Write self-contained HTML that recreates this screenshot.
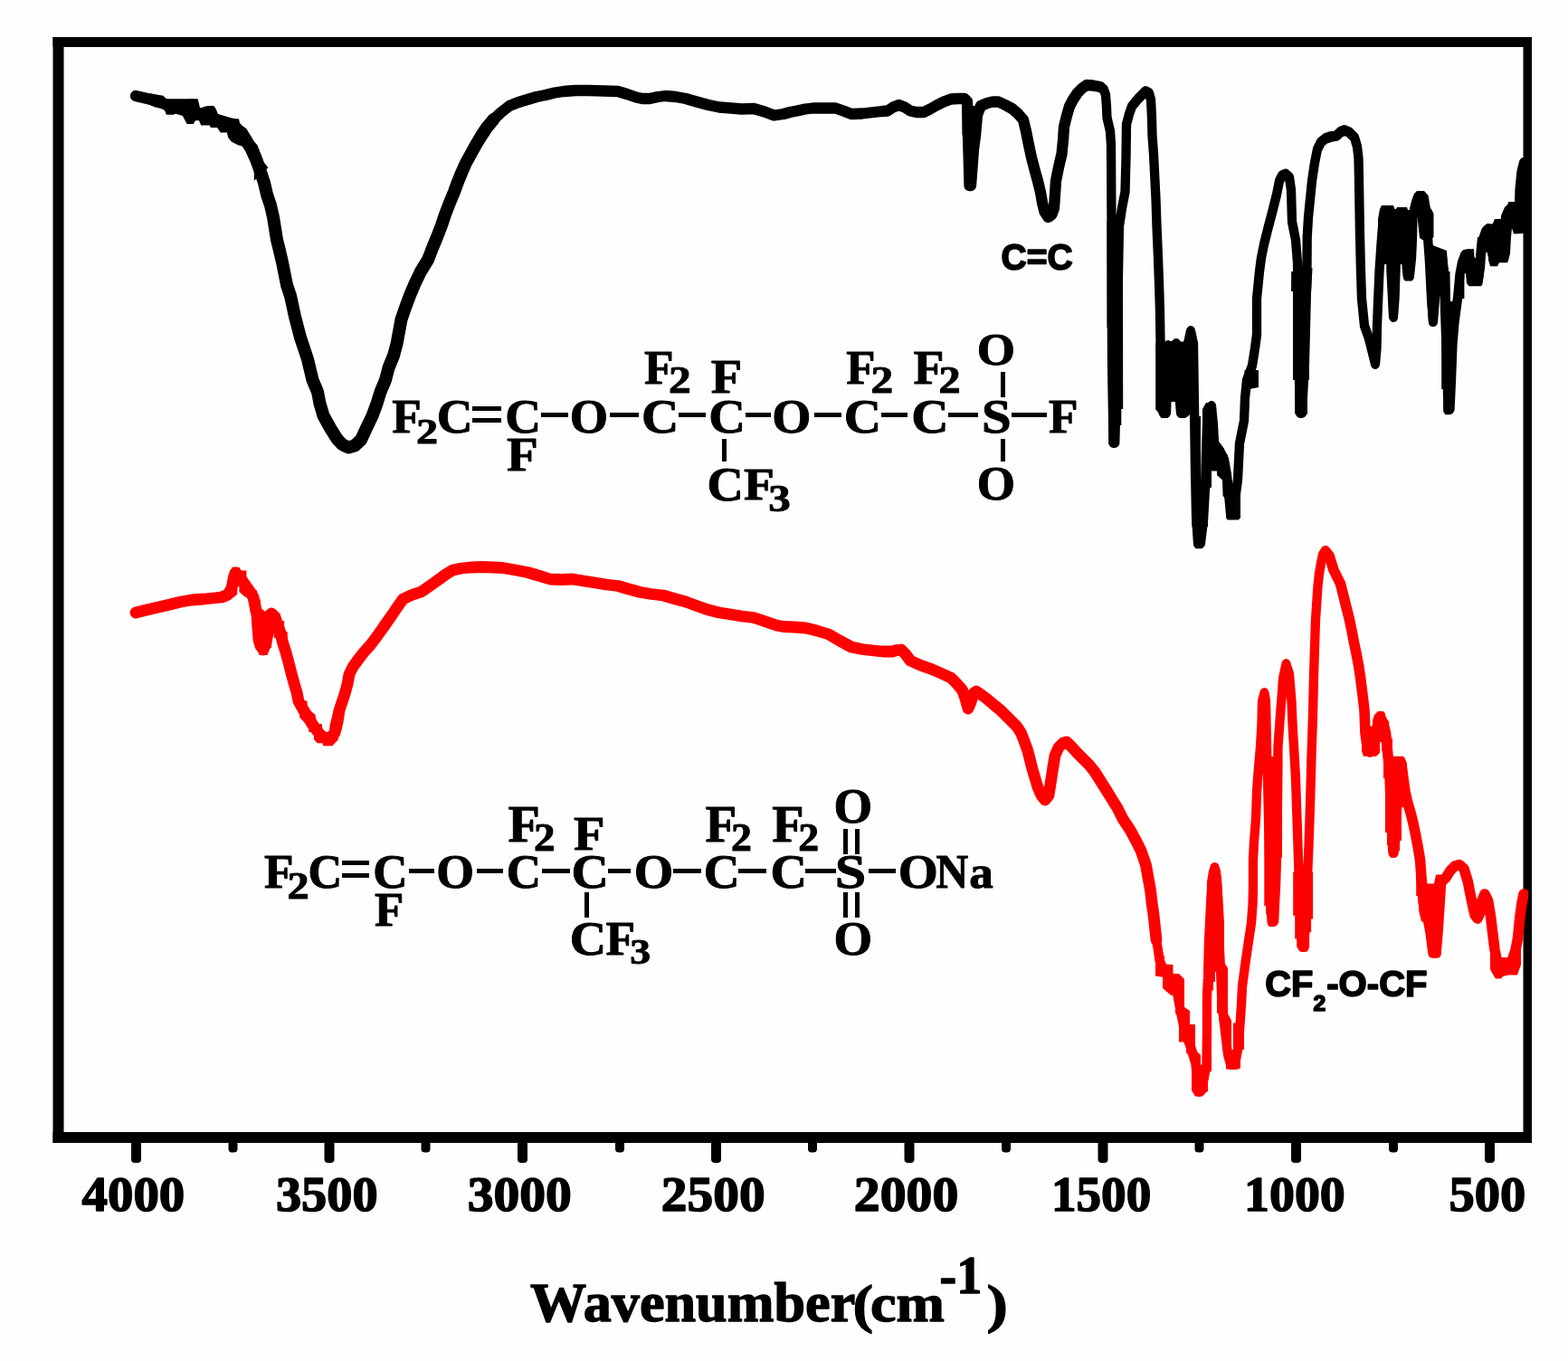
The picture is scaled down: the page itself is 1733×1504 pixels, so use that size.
<!DOCTYPE html>
<html lang="en">
<head>
<meta charset="utf-8">
<title>FTIR spectra</title>
<style>
html,body{margin:0;padding:0;background:#fefefe;}
body{width:1733px;height:1504px;overflow:hidden;}
svg{display:block;}
.ser{font-family:"Liberation Serif","DejaVu Serif",serif;font-weight:bold;fill:#000;}
.san{font-family:"Liberation Sans","DejaVu Sans",sans-serif;font-weight:bold;fill:#000;}
.crv{fill:none;stroke-linejoin:round;stroke-linecap:round;}
</style>
</head>
<body>
<svg width="1733" height="1504" viewBox="0 0 1733 1504">
<defs><clipPath id="plot"><rect x="64" y="46" width="1626" height="1212"/></clipPath><clipPath id="plotr"><rect x="64" y="46" width="1625" height="1212"/></clipPath></defs>
<rect x="0" y="0" width="1733" height="1504" fill="#fefefe"/>
<g clip-path="url(#plot)">
<polyline class="crv" stroke="#000" stroke-width="12.3" points="150,106.00 165,109.50 178,113.00 190,119.00 200,119.50 207,117.00 212,115.50 213,127.00 222,127.00 228,123.50 233,123.00 236,131.00 246,134.00 258,137.50 266,146.00"/>
<polyline class="crv" stroke="#000" stroke-width="14.0" points="266,146.00 272,155.00 278,165.00 283,176.00 288,190.00 292,202.00 295,215.00 299,227.00 302,240.00 306,265.00 309,277.00 312,290.00 317,315.00 321,327.00 326,350.00 332,373.00 340,397.00 345.5,420.00 351,433.00 353.5,446.00 357.5,459.50 365,473.00 372.5,485.00 378,491.00 385,494.50 392,492.50 399,486.00 405,473.00 411.5,459.50 416.5,446.00 420.5,433.00 426,420.00 429.5,406.50 435,393.00 438.5,380.00 441,366.50 443.5,353.00 448,340.00 453,326.50 458.5,313.50 465,300.00 473,287.00 478,274.00 483,262.00 488,249.00 492,237.00 497,224.00 502,212.00 506,201.00 510.5,190.00 515,180.00 520.5,170.00 526,160.00 532,150.00 538,141.00 545.5,132.00"/>
<polyline class="crv" stroke="#000" stroke-width="12.3" points="545.5,132.00 554,124.00 563,117.00 573,113.00 583,110.00 593,107.00 603,105.00 613,102.50 623,101.00 636,100.00 650.5,100.00 668,100.50 683,101.00 693,104.00 703,107.50 710,109.00 718,109.00 727,107.00 735.5,106.00 747,107.00 758,109.00 770,112.50 783,116.00 795,118.50 808,119.50 820,120.50 833,120.00 845,123.50 855.5,127.50 866,126.00 873,124.00 881,122.50 890,120.50 898.5,119.50 911,119.50 923.5,119.50 932,122.50 941,126.00 953,125.50 966,124.00 975,123.00 981,122.50 987,118.50 993.5,116.00 1000,118.50 1006,122.50 1013,124.00 1021,124.00 1028,120.50 1036,116.00 1043,112.50 1051,109.50 1059,109.00 1066,109.00 1069,112.00 1070,150.00 1071.5,205.00 1073,205.00 1076,165.00 1078,150.00 1080,127.00 1084,117.00 1091,114.00 1097,112.50 1103.5,112.50 1111,116.00 1118.5,120.00 1125,125.50 1131,132.50 1134,145.00 1137,160.00 1140,174.00 1143.5,187.50 1147,200.00 1150,212.50 1152,224.00 1154.5,234.00 1158.5,240.00 1162.5,237.00 1165,230.00 1166,215.00 1167,200.00 1170,185.00 1173.5,170.00 1175,155.00 1176,140.00 1179,128.00 1182,117.50 1186,110.00 1191,102.50 1196,97.50 1201,94.00 1208,94.50 1216,96.00"/>
<g transform="scale(1 1.15)"><polyline class="crv" stroke="#000" stroke-width="10.3" points="1523,291.30 1524.5,260.87 1526.5,234.78 1528.5,213.04 1531,205.22 1534,202.61 1536.5,208.70 1537,234.78 1537.5,260.87 1539,286.96 1540,304.35 1541.5,286.96 1542.5,260.87 1543.5,230.43 1545,208.70 1548,204.78 1551,205.22 1552,217.39 1553,239.13 1555.5,264.35 1558,264.35 1560,247.83 1561,227.83 1561.5,208.70 1564,198.26 1567,191.30 1570.5,188.70 1574,191.30 1576,201.74 1576.5,217.39 1578,227.83 1580,252.17 1582,286.96 1584,308.70 1586,286.96 1588,260.87 1589.5,246.09 1594,246.96 1596,260.87 1597,295.65 1599,347.83 1600.5,393.04 1602.5,393.04 1604,365.22 1605.5,330.43 1607.5,309.57 1611,286.96 1613.5,263.48 1616,252.17 1619,245.22 1623,244.35 1626,252.17 1627,265.22 1630,269.57 1634,267.83 1636,256.52 1637,243.48 1639,230.43 1642,222.61 1645,220.00 1647,234.78 1651,250.43 1654,234.78 1656,216.52 1659,233.04 1661.5,246.96 1664,230.43 1664,208.70 1667,202.61 1671,199.13 1674,213.04 1677,219.13 1679,204.35 1679.5,182.61 1681.5,165.22 1684,156.52"/></g>
<g transform="scale(1 1.15)"><polyline class="crv" stroke="#000" stroke-width="10.3" points="1216,83.48 1220,86.09 1222,91.30 1223,102.61 1223.5,113.04 1227,126.09 1228,139.13 1228.5,217.39 1229,347.83 1230.5,425.22 1232,425.22 1234,382.61 1235,304.35 1236,260.87 1237,217.39 1240,200.00 1243.5,184.35 1244.5,152.17 1245,119.57 1248,109.57 1251,102.17 1258,94.78 1266,87.83 1270,89.57 1272,95.65 1273,113.04 1273.5,130.43 1275,147.83 1276,165.22 1277.5,191.30 1278.5,217.39 1280,247.83 1281,271.30 1282,300.00 1282.5,327.83 1284,365.22 1286,396.52 1289,396.52 1290,365.22 1291,332.17 1296,333.91 1300,330.43 1302,365.22 1305,396.52 1309,396.52 1311,365.22 1313,330.43 1316,318.26 1319,330.43 1320,391.30 1321,452.17 1322,495.65 1324,521.74 1327,521.74 1330,500.00 1332,469.57 1333,434.78 1334,408.70 1336,393.04 1339,390.43 1341,408.70 1342,426.09 1348,433.04 1353,441.74 1356,456.52 1358,473.91 1360,493.91 1364,493.91 1366,473.91 1368,460.87 1369,443.48 1370,426.09 1373,413.04 1375,404.35 1376,382.61 1378,365.22 1384,351.30 1387,334.78 1389,321.74 1389,304.35 1389,286.96 1392,260.87 1394,247.83 1397,234.78 1402,217.39 1406,204.35 1411,186.96 1414,173.91 1417,168.70 1421,167.39 1425,170.43 1427,182.61 1428,213.04 1432,230.43 1434,252.17 1435,304.35 1436,365.22 1437,396.52 1439,396.52 1442,347.83 1443.5,295.65 1444.5,257.39 1444.7,227.83 1446,208.70 1447.5,195.65 1450,173.91 1453,156.52 1456,143.48 1460,136.52 1465,133.04 1471,131.30 1477,130.43 1482,126.52 1486,125.22 1491,126.96 1497,132.17 1500,140.87 1501.5,152.17 1502,173.91 1503,226.09 1504,260.87 1505,286.96 1508,313.04 1513,325.22 1517,339.13 1520,349.57 1521.5,334.78 1522,313.04 1523,291.30"/></g>
<polygon fill="#000" points="1223.5,245 1241,245 1241.2,452 1239.3,452 1239.3,470 1237.3,470 1237.3,491 1235,494 1228,494 1225.3,491 1225.3,362 1223.5,362"/>
<polygon fill="#000" points="1277.2,379 1295,378.5 1297,392 1299,392 1299.5,377.5 1308.5,377.5 1311,375 1311.5,366 1314,363.5 1319,363.5 1321,366 1321,441 1323,449 1325,458 1317.4,460 1315,458 1313,460 1305,460 1303,457 1301.8,444 1293.1,444 1293,458 1290.5,462 1283.5,462 1281,458 1279,454 1277.2,453"/>
<polygon fill="#000" points="1317.4,460 1327,460 1327,530 1329,530 1329,452 1333,445 1340,445 1343,450 1343,488.6 1339,488.6 1339,538.5 1335,540 1335,582.3 1331,582.3 1331,603 1328.5,606.3 1321.5,606.3 1319.3,603 1319.3,582.3 1317.4,582.3"/>
<polygon fill="#000" points="1338,490 1343,487.5 1347,497 1356.5,502 1357,522 1361,525 1361,534 1363.6,536 1371,540 1371,572 1369,574.4 1356.5,574.4 1355,572 1355,552 1351.6,548 1351,530.5 1345,525 1345,520.5 1339,520.5"/>
<polygon fill="#000" points="1375.5,409 1391,409 1391,428 1381,430 1375.5,428"/>
<polygon fill="#000" points="1427.2,300 1432,300 1438,293 1444,300 1450.5,296 1449.2,322 1447,322 1447,420 1445,420 1445,457 1442,460.4 1434,460.4 1431.2,457 1431.2,420 1429,420 1429,322 1427,322"/>
<polygon fill="#000" points="1523,242 1525,231 1527,227 1540,227 1541.5,231 1543,231 1544,229 1555,229 1556,232 1558,232 1560,222 1563,214 1566,211 1574,211 1578.5,216 1578.5,228 1582,231 1584.5,236 1584.5,262 1577,268 1569,263 1566,234 1565,279 1563,292 1562.5,308 1560.5,310.5 1553,310.5 1551,308 1551,292 1523,292"/>
<polygon fill="#000" points="1577,268 1586,272 1599,277 1600,295 1602,310 1602,330 1593,328 1590,319 1588.5,345 1588.5,357 1586.5,360.5 1580.5,360.5 1579,357 1577,328"/>
<polygon fill="#000" points="1593.2,300 1602.5,300 1603,333 1607,333 1610.5,326 1610.5,369 1608.4,369 1608.4,409 1606.4,409 1606.4,430 1605,430 1605,455 1602.5,458.3 1597.5,458.3 1595.3,455 1595.3,430 1593.2,430"/>
<polygon fill="#000" points="1609,330 1609,302 1613,292 1615.7,280 1617,276 1629,275 1629.5,285 1631,285 1631.5,277 1633,262 1641,262 1640,302 1638.5,314 1637,316.3 1623.5,316.3 1621,313 1620,302 1618.4,302 1618.4,330"/>
<polygon fill="#000" points="1639.6,250 1650,247 1652,242 1661,242 1662,232.5 1666,232.5 1667,223 1675.5,223 1676,200 1680,182 1684,176 1684,258 1673,258.4 1671,252 1670,262 1669,280 1667,288 1666,290.3 1657,290.3 1655,294.3 1647,294.3 1645,287 1645,279 1641,279"/>
<polygon fill="#000" points="165.9,103.3 180.3,105.7 183.9,109.3 201.8,109.3 210.2,109.3 218.6,109.3 221,118.9 228.1,118.9 229.3,117.3 236.5,117.3 242.5,129.1 264.1,131.5 265.8,141 272.4,142.2 278.4,154.2 284.4,160.2 288,169.8 291.6,179.3 296.4,185.3 280.8,199.7 280.8,185.3 274.8,169.8 267.6,161.4 262.9,160.2 255.7,156.6 252.1,151.8 250.9,146.4 243.7,146.4 240.1,141 232.9,141 231.7,138.6 222.2,138.6 219.8,132.7 216.2,132.7 213.8,136.9 206.6,136.9 201.8,127.9 193.4,125.5 192.2,126.7 183.9,126.7 181.5,120.7 170.7,118.3 165.9,115.9"/>
<polygon fill="#000" points="1063.5,115 1083.5,118 1083.5,125 1082,162 1079,165 1077,177 1077,208 1075.5,210 1068.5,210 1067,208 1067,165 1065.5,162 1063.5,148"/>
</g>
<g fill="#000">
<rect x="58.5" y="41" width="1634.5" height="11"/>
<rect x="58.5" y="1251" width="1634.5" height="12"/>
<rect x="58.5" y="41" width="12" height="1222"/>
<rect x="1683.5" y="41" width="9.5" height="1222"/>
<rect x="145" y="1260" width="11" height="25" rx="4" ry="4"/>
<rect x="358.5" y="1260" width="11" height="25" rx="4" ry="4"/>
<rect x="572" y="1260" width="11" height="25" rx="4" ry="4"/>
<rect x="786" y="1260" width="11" height="25" rx="4" ry="4"/>
<rect x="999.5" y="1260" width="11" height="25" rx="4" ry="4"/>
<rect x="1213.5" y="1260" width="11" height="25" rx="4" ry="4"/>
<rect x="1427" y="1260" width="11" height="25" rx="4" ry="4"/>
<rect x="1641" y="1260" width="11" height="25" rx="4" ry="4"/>
<rect x="252.5" y="1260" width="10" height="13.5" rx="4" ry="4"/>
<rect x="465.5" y="1260" width="10" height="13.5" rx="4" ry="4"/>
<rect x="680" y="1260" width="10" height="13.5" rx="4" ry="4"/>
<rect x="893" y="1260" width="10" height="13.5" rx="4" ry="4"/>
<rect x="1107" y="1260" width="10" height="13.5" rx="4" ry="4"/>
<rect x="1320.5" y="1260" width="10" height="13.5" rx="4" ry="4"/>
<rect x="1535" y="1260" width="10" height="13.5" rx="4" ry="4"/>
</g>
<g clip-path="url(#plotr)">
<polyline class="crv" stroke="#ff0000" stroke-width="12.8" points="150,677.00 162,674.00 175,671.00 188,668.00 200,665.00 212,663.00 225,662.00 235,661.00 245,660.00 252,657.00 256,650.00 258,640.00 260,633.00 264,636.00 270,645.00 275,652.00 280,660.00 282,670.00 284,680.00 285,695.00 286,707.00 288,714.00 291,718.00 294,710.00 296,700.00 298,686.00 300,678.00 304,682.00 307.5,692.00 310,700.00 312.5,710.00 316,721.00 319,732.00 322,744.00 325,755.00 328,765.00 330,775.00 335,784.00 340,792.00 345,800.00 350,807.00 355,813.00 360,816.00 365,815.00 370,810.00 373,798.00 375,785.00 378,776.00 381,767.00 384,756.00 386,745.00 390,737.00 395,730.00 402,721.00 410,712.00 416,704.00 422.5,695.00 428,687.00 433,680.00 439,671.00 445.5,662.00 455,657.50 465.5,654.00 475,647.50 485.5,640.00 493,634.50 500.5,630.00 510,628.00 520,627.00 533,626.50 545,627.00 555.5,627.50 570,630.00 583,632.50 595,636.00 608,640.00 620,640.50 633,640.00 645,642.00 658,644.00 670,646.00 683,647.50 695,651.00 708,654.50 720,656.50 733,658.00 745,661.50 758,665.00 770,669.50 783,674.00 795,677.00 808,679.00 820,681.00 833,682.50 845,686.50 858,691.00 866,692.50 878,693.00 891,694.00 903,697.00 916,701.00 928,708.00 941,715.00 953,717.50 966,719.00 976,720.00 986,720.00 991,718.50 996,718.00 1001,723.00 1006,730.00 1017,735.00 1028.5,739.00 1040,744.00 1051,749.00 1057,755.00 1063.5,762.50 1067,772.00 1070,783.00 1073,776.00 1076,766.00 1079,764.00 1085,768.00 1091,772.50 1098,778.50 1106,785.00 1112,791.00 1118.5,797.50 1124,803.00 1128.5,810.00 1132,819.00 1136,830.00 1138.5,840.00 1141,850.00 1144,860.00 1147,870.00 1151,879.00 1155,884.00 1159,879.00 1162,860.00 1164,847.00 1166,835.00 1170,826.00 1175,821.00 1179,820.00 1185,826.00 1191,832.50 1197,838.50 1203.5,845.00 1210,853.00 1216,862.50 1222,872.00 1228.5,882.50 1235,893.00 1241,905.00 1249,917.00 1256,930.00 1261,940.00 1266.5,956.00 1269,970.00 1271.5,983.50 1273,997.00 1275,1011.00 1276.5,1025.00 1278,1038.50"/>
<polyline class="crv" stroke="#ff0000" stroke-width="11.6" points="1465,609.00 1469,614.00 1474,630.00 1478,638.00 1481.5,645.00 1484,655.00 1486.5,665.00 1489,675.00 1491.5,685.00 1494,697.00 1496.5,710.00 1499,722.00 1501.5,735.00 1503.5,748.00 1505,760.00 1506.5,772.00 1508,785.00 1509,810.00 1511,825.00 1514,831.00 1518,826.00 1521.5,810.00 1523,798.00 1526,793.00 1529,800.00 1531.5,810.00 1534,835.00 1536,855.00 1537.5,900.00 1540,942.00 1542.5,920.00 1544,880.00 1546,848.00 1549,845.00 1551,860.00 1553,875.00 1556,888.00 1559,898.00 1562,910.00 1564.5,922.00 1567,935.00 1569.5,950.00 1571,970.00 1572.5,990.00 1574.5,1008.00 1578,1014.00 1581,1030.00 1584,1053.00 1587,1053.00 1589,1030.00 1591,1000.00 1592.5,975.00 1598,970.00 1603,962.00 1608,957.00 1613,955.50 1618,960.00 1622.5,975.00 1625,988.00 1627.5,1000.00 1630,1011.00 1633,1015.00 1636,1008.00 1638,995.00 1641,988.00 1644.5,995.00 1647.5,1012.50 1649,1025.00 1650.5,1037.50 1652,1049.00 1654,1060.00 1658,1069.00 1662.5,1072.00 1667,1070.00 1671,1062.00 1675,1050.00 1677.5,1037.00 1679.8,1014.00 1681.8,999.00 1684,988.00"/>
<g transform="scale(1 1.15)"><polyline class="crv" stroke="#ff0000" stroke-width="10.3" points="1278,903.04 1280,913.04 1281.5,922.61 1285,930.43 1290,936.52 1295,941.74 1299,946.52 1301.5,956.52 1304,968.26 1306.5,979.13 1309,990.00 1313,999.13 1316.5,1007.39 1319,1014.78 1321.5,1022.61 1323,1039.13 1325,1048.70 1328,1046.96 1331,1034.78 1333.5,1022.61 1334,991.30 1334,957.39 1335,940.00 1336,904.35 1338,869.57 1340,845.22 1342.5,833.91 1345,845.22 1346,869.57 1347,895.65 1348.5,921.74 1349.5,943.48 1350.5,965.22 1354,991.30 1357,1013.04 1360,1022.61 1365,1022.61 1368,1008.70 1369.5,995.65 1371,978.26 1372,965.22 1373,947.83 1377,921.74 1380,904.35 1383,886.96 1384.5,869.57 1385,852.17 1385,826.09 1386,808.70 1388,786.96 1389,761.74 1390,747.83 1393,717.39 1394.5,695.65 1395,673.91 1397.5,666.09 1399,673.91 1400,717.39 1401,747.83 1402.5,804.35 1404,852.17 1405.5,885.22 1408,885.22 1410,852.17 1411,826.09 1412,765.22 1412.5,717.39 1415,686.96 1417,665.22 1418,652.17 1421.5,638.26 1425,647.83 1427.5,673.91 1428.5,695.65 1430,717.39 1432,747.83 1433,773.91 1434.5,813.04 1436,852.17 1438,886.96 1439.5,909.57 1441.5,909.57 1443,878.26 1445,843.48 1446.5,813.04 1448,773.91 1449.5,726.09 1451,686.96 1452,650.00 1453,621.74 1454,595.65 1456.5,563.04 1458,551.30 1460,541.30 1462,533.04 1465,529.57"/></g>
<polygon fill="#ff0000" points="1277,1060 1287,1056 1287,1065.5 1296.5,1066 1296.5,1076 1303,1076 1309,1082 1309,1113 1315,1117 1315,1132 1321,1132 1321,1160 1327,1166 1327,1176 1335,1186 1335,1206 1333,1207 1329,1211.5 1321,1211.5 1317,1205 1317,1170 1311,1163 1311,1151.6 1303,1151.6 1303,1123.7 1299,1119.7 1299,1099.8 1294,1099.8 1285,1092 1285,1079.8 1277,1078.5"/>
<polygon fill="#ff0000" points="1334,975 1336,962 1339,955 1346,955 1349,962 1351,985 1353,1020 1353,1064 1355,1066.5 1357,1070 1357,1120 1361,1127.7 1361,1153 1355,1163.6 1351,1159.6 1351,1127.7 1347,1127.7 1347,1119.7 1345,1119.7 1345,1074 1343,1074 1343,1085 1341,1085 1341,1094.5 1339,1094.5 1339,1183.6 1335,1186 1329,1175.6 1329,1094.5 1331,1094.5 1331,1082.5 1333,1082.5 1333,1020"/>
<polygon fill="#ff0000" points="1355,1160 1363,1160 1363,1130.4 1375,1130.4 1375,1159.6 1371,1161 1371,1179 1369.7,1181.6 1355,1181.6"/>
<polygon fill="#ff0000" points="1397.3,836 1417.2,836 1417,947.8 1415.2,947.8 1415.2,958.5 1413.2,958.5 1413.2,1019 1411,1022.5 1403,1024.3 1401.2,1022 1401.2,1010.3 1399.2,1010.3 1399.2,1001 1397.3,1001"/>
<polygon fill="#ff0000" points="1429.2,963.8 1451.1,963.8 1451.1,1015.6 1449.1,1015.6 1449.1,1030.3 1447.1,1030.3 1447.1,1046.2 1445,1051.5 1437,1051.5 1435,1049 1433.2,1046.2 1433.2,1037.6 1431.2,1037.6 1431.2,1011.7 1429.2,1011.7"/>
<polygon fill="#ff0000" points="1505,806 1513,802.5 1517,802.5 1517,796 1519,790 1523,786 1529,786 1531,788.5 1531,793 1535,797 1535,808 1537,808 1537,816 1539,816 1539,830 1527,830 1527,820 1525,820 1525,832 1521,835.7 1507,835.7 1505,830"/>
<polygon fill="#ff0000" points="1529,836 1541,835.7 1551,835.7 1553,838.4 1555,844 1555,862.3 1557,862.3 1557,878.3 1559,878.3 1559,892 1549,892 1549,929 1547,929 1547,940 1545,940 1543,947.8 1537,947.8 1535,945 1535,934 1533,934 1533,920 1531,920 1531,860 1529,860"/>
<polygon fill="#ff0000" points="1565.2,960 1577,976.5 1585,976.5 1587,966.5 1597,966.5 1597,982 1595,993 1593,1022 1593,1054 1591,1058.2 1581,1058.2 1579,1054 1579,1022 1577,1019.7 1571,1018.3 1569,1010 1567,990 1565.2,990"/>
<polygon fill="#ff0000" points="1647,1045 1655,1045 1657,1058 1669,1058 1671,1050 1681,1050 1681,1066 1677,1077.5 1667,1077.5 1661,1079 1659,1081.5 1653,1081.5 1649,1075 1647,1071"/>
<polygon fill="#ff0000" points="252.7,634.9 256.3,631.9 256.3,626.8 264.4,626.8 266.5,630.5 272.4,630.5 272.4,640.7 276.1,642.9 276.8,649.5 284.1,652.4 284.1,660.4 287.7,662.6 288.5,672.1 292.9,675.8 296.5,672.9 303.8,672.9 309.7,678.7 309.7,686 314.1,686 314.1,696.3 317.7,698.5 317.7,710.9 308.9,718.2 308.2,705.8 303.1,705 301.6,694.1 300.2,694.1 300.2,715.3 295.8,718.9 295.8,724 286.3,724 286.3,713.8 280.4,708 280.4,678.7 276.8,677.3 275.3,659.7 270.9,659.7 264.4,653.9 264.4,648 262.2,648 262.2,656.8 257.8,660.4 252.7,648"/>
<polygon fill="#ff0000" points="330.9,792.7 335.3,797.1 341.1,801.5 341.1,808.8 347,808.8 347,816.9 350.6,821.3 356.5,821.3 357.2,824.2 367.4,824.2 374,816.9 374,807.4 377.7,805.9 377.7,792.7 368.9,784 364.5,801.5 363.8,813.2 357.2,811.8 355.7,800.1 349.9,800.1 348.4,789.8 339.6,782.5 339.6,774.5 333.8,774.5"/>
</g>
<g class="ser">
<text transform="matrix(0.5687 0 0 0.5541 90.59 1338.15)" font-size="100" stroke="#000" stroke-width="2.85" stroke-linejoin="round">4000</text>
<text transform="matrix(0.5631 0 0 0.5541 304.94 1338.15)" font-size="100" stroke="#000" stroke-width="2.86" stroke-linejoin="round">3500</text>
<text transform="matrix(0.5761 0 0 0.5541 516.64 1338.15)" font-size="100" stroke="#000" stroke-width="2.83" stroke-linejoin="round">3000</text>
<text transform="matrix(0.5737 0 0 0.5541 730.86 1338.15)" font-size="100" stroke="#000" stroke-width="2.84" stroke-linejoin="round">2500</text>
<text transform="matrix(0.5776 0 0 0.5541 943.85 1338.15)" font-size="100" stroke="#000" stroke-width="2.83" stroke-linejoin="round">2000</text>
<text transform="matrix(0.5519 0 0 0.5541 1161.88 1338.15)" font-size="100" stroke="#000" stroke-width="2.89" stroke-linejoin="round">1500</text>
<text transform="matrix(0.5586 0 0 0.5541 1375.08 1338.15)" font-size="100" stroke="#000" stroke-width="2.88" stroke-linejoin="round">1000</text>
<text transform="matrix(0.5652 0 0 0.5541 1601.54 1338.15)" font-size="100" stroke="#000" stroke-width="2.86" stroke-linejoin="round">500</text>
<text transform="matrix(0.6220 0 0 0.6070 585.97 1459.89)" font-size="100" stroke="#000" stroke-width="2.28" stroke-linejoin="round">Wavenumber</text><text transform="matrix(0.6784 0 0 0.6017 942.45 1460.51)" font-size="100" stroke="#000" stroke-width="2.19" stroke-linejoin="round">(</text><text transform="matrix(0.6408 0 0 0.5958 961.96 1460.20)" font-size="100" stroke="#000" stroke-width="2.27" stroke-linejoin="round">cm</text><text transform="matrix(0.5603 0 0 0.5924 1038.60 1428.80)" font-size="100" stroke="#000" stroke-width="2.43" stroke-linejoin="round">-1</text><text transform="matrix(0.7029 0 0 0.6017 1090.42 1460.51)" font-size="100" stroke="#000" stroke-width="2.15" stroke-linejoin="round">)</text>
</g>
<g class="san">
<text transform="matrix(0.3903 0 0 0.4000 1106.49 297.55)" font-size="100" stroke="#000" stroke-width="4.30" stroke-linejoin="round">C=C</text>
<text transform="matrix(0.3984 0 0 0.4000 1398.26 1100.55)" font-size="100" stroke="#000" stroke-width="4.26" stroke-linejoin="round">CF</text><text transform="matrix(0.2458 0 0 0.2337 1451.49 1117.15)" font-size="100" stroke="#000" stroke-width="7.09" stroke-linejoin="round">2</text><text transform="matrix(0.4011 0 0 0.4000 1466.25 1100.55)" font-size="100" stroke="#000" stroke-width="4.24" stroke-linejoin="round">-O-CF</text></g>
<g class="ser"><text transform="matrix(0.5321 0 0 0.5305 433.32 478.25)" font-size="100" stroke="#000" stroke-width="1.88" stroke-linejoin="round">F</text><text transform="matrix(0.4819 0 0 0.4075 459.95 490.00)" font-size="100" stroke="#000" stroke-width="2.26" stroke-linejoin="round">2</text><text transform="matrix(0.5504 0 0 0.5353 482.75 478.46)" font-size="100" stroke="#000" stroke-width="1.84" stroke-linejoin="round">C</text><rect x="522" y="449" width="32" height="5"/><rect x="522" y="462" width="32" height="5"/><text transform="matrix(0.5504 0 0 0.5353 558.25 478.46)" font-size="100" stroke="#000" stroke-width="1.84" stroke-linejoin="round">C</text><text transform="matrix(0.5688 0 0 0.5267 560.00 520.00)" font-size="100" stroke="#000" stroke-width="1.83" stroke-linejoin="round">F</text><rect x="598" y="456" width="30" height="5"/><text transform="matrix(0.5441 0 0 0.5353 629.78 478.46)" font-size="100" stroke="#000" stroke-width="1.85" stroke-linejoin="round">O</text><rect x="674" y="456" width="32" height="5"/><text transform="matrix(0.5714 0 0 0.5353 708.89 478.46)" font-size="100" stroke="#000" stroke-width="1.81" stroke-linejoin="round">C</text><text transform="matrix(0.5321 0 0 0.5305 712.07 424.00)" font-size="100" stroke="#000" stroke-width="1.88" stroke-linejoin="round">F</text><text transform="matrix(0.4940 0 0 0.4113 738.90 434.00)" font-size="100" stroke="#000" stroke-width="2.22" stroke-linejoin="round">2</text><rect x="750" y="456" width="30" height="5"/><text transform="matrix(0.5630 0 0 0.5353 783.18 478.46)" font-size="100" stroke="#000" stroke-width="1.82" stroke-linejoin="round">C</text><text transform="matrix(0.5642 0 0 0.5305 785.76 434.00)" font-size="100" stroke="#000" stroke-width="1.83" stroke-linejoin="round">F</text><rect x="798" y="485" width="5" height="25"/><text transform="matrix(0.5588 0 0 0.5316 781.46 552.72)" font-size="100" stroke="#000" stroke-width="1.83" stroke-linejoin="round">C</text><text transform="matrix(0.5550 0 0 0.5115 822.03 552.00)" font-size="100" stroke="#000" stroke-width="1.88" stroke-linejoin="round">F</text><text transform="matrix(0.4912 0 0 0.4126 849.16 565.34)" font-size="100" stroke="#000" stroke-width="2.22" stroke-linejoin="round">3</text><rect x="824" y="456" width="28" height="5"/><text transform="matrix(0.5551 0 0 0.5353 853.22 478.46)" font-size="100" stroke="#000" stroke-width="1.83" stroke-linejoin="round">O</text><rect x="900" y="456" width="30" height="5"/><text transform="matrix(0.5714 0 0 0.5353 932.64 478.46)" font-size="100" stroke="#000" stroke-width="1.81" stroke-linejoin="round">C</text><text transform="matrix(0.5275 0 0 0.5305 935.33 424.00)" font-size="100" stroke="#000" stroke-width="1.89" stroke-linejoin="round">F</text><text transform="matrix(0.4940 0 0 0.4113 962.40 434.00)" font-size="100" stroke="#000" stroke-width="2.22" stroke-linejoin="round">2</text><rect x="974" y="456" width="29" height="5"/><text transform="matrix(0.5714 0 0 0.5353 1007.14 478.46)" font-size="100" stroke="#000" stroke-width="1.81" stroke-linejoin="round">C</text><text transform="matrix(0.5550 0 0 0.5305 1009.53 424.00)" font-size="100" stroke="#000" stroke-width="1.84" stroke-linejoin="round">F</text><text transform="matrix(0.4819 0 0 0.4113 1037.45 434.00)" font-size="100" stroke="#000" stroke-width="2.25" stroke-linejoin="round">2</text><rect x="1048" y="456" width="33" height="5"/><text transform="matrix(0.5870 0 0 0.5353 1084.92 478.46)" font-size="100" stroke="#000" stroke-width="1.78" stroke-linejoin="round">S</text><text transform="matrix(0.5441 0 0 0.5167 1079.78 403.48)" font-size="100" stroke="#000" stroke-width="1.89" stroke-linejoin="round">O</text><rect x="1106" y="411" width="5" height="28"/><rect x="1106" y="485" width="5" height="25"/><text transform="matrix(0.5441 0 0 0.5279 1079.78 552.47)" font-size="100" stroke="#000" stroke-width="1.87" stroke-linejoin="round">O</text><rect x="1118" y="456" width="39" height="5"/><text transform="matrix(0.5321 0 0 0.5305 1159.07 478.25)" font-size="100" stroke="#000" stroke-width="1.88" stroke-linejoin="round">F</text></g>
<g class="ser"><text transform="matrix(0.5321 0 0 0.5191 292.07 980.75)" font-size="100" stroke="#000" stroke-width="1.90" stroke-linejoin="round">F</text><text transform="matrix(0.4819 0 0 0.4189 317.45 993.25)" font-size="100" stroke="#000" stroke-width="2.23" stroke-linejoin="round">2</text><text transform="matrix(0.5210 0 0 0.5242 340.39 980.98)" font-size="100" stroke="#000" stroke-width="1.91" stroke-linejoin="round">C</text><rect x="378" y="951" width="30" height="5"/><rect x="378" y="965" width="30" height="5"/><text transform="matrix(0.5294 0 0 0.5242 412.35 980.98)" font-size="100" stroke="#000" stroke-width="1.90" stroke-linejoin="round">C</text><text transform="matrix(0.5275 0 0 0.5267 414.08 1023.25)" font-size="100" stroke="#000" stroke-width="1.90" stroke-linejoin="round">F</text><rect x="452" y="960" width="28" height="5"/><text transform="matrix(0.5368 0 0 0.5242 482.32 980.98)" font-size="100" stroke="#000" stroke-width="1.89" stroke-linejoin="round">O</text><rect x="527" y="960" width="29" height="5"/><text transform="matrix(0.5294 0 0 0.5242 559.85 980.98)" font-size="100" stroke="#000" stroke-width="1.90" stroke-linejoin="round">C</text><text transform="matrix(0.5780 0 0 0.5725 561.49 930.00)" font-size="100" stroke="#000" stroke-width="1.74" stroke-linejoin="round">F</text><text transform="matrix(0.4699 0 0 0.4377 590.00 939.50)" font-size="100" stroke="#000" stroke-width="2.20" stroke-linejoin="round">2</text><rect x="599" y="960" width="31" height="5"/><text transform="matrix(0.5714 0 0 0.5242 631.39 980.98)" font-size="100" stroke="#000" stroke-width="1.83" stroke-linejoin="round">C</text><text transform="matrix(0.5642 0 0 0.5305 634.01 939.00)" font-size="100" stroke="#000" stroke-width="1.83" stroke-linejoin="round">F</text><rect x="646" y="986" width="5" height="28"/><text transform="matrix(0.5588 0 0 0.5316 629.71 1055.22)" font-size="100" stroke="#000" stroke-width="1.83" stroke-linejoin="round">C</text><text transform="matrix(0.5321 0 0 0.5191 669.57 1055.00)" font-size="100" stroke="#000" stroke-width="1.90" stroke-linejoin="round">F</text><text transform="matrix(0.4561 0 0 0.4015 696.29 1064.60)" font-size="100" stroke="#000" stroke-width="2.34" stroke-linejoin="round">3</text><rect x="672" y="960" width="25" height="5"/><text transform="matrix(0.5588 0 0 0.5242 700.71 980.98)" font-size="100" stroke="#000" stroke-width="1.85" stroke-linejoin="round">O</text><rect x="744" y="960" width="31" height="5"/><text transform="matrix(0.5504 0 0 0.5242 777.75 980.98)" font-size="100" stroke="#000" stroke-width="1.86" stroke-linejoin="round">C</text><text transform="matrix(0.5688 0 0 0.5725 779.50 930.00)" font-size="100" stroke="#000" stroke-width="1.75" stroke-linejoin="round">F</text><text transform="matrix(0.4578 0 0 0.4377 808.05 939.50)" font-size="100" stroke="#000" stroke-width="2.23" stroke-linejoin="round">2</text><rect x="816" y="960" width="31" height="5"/><text transform="matrix(0.5588 0 0 0.5242 851.46 980.98)" font-size="100" stroke="#000" stroke-width="1.85" stroke-linejoin="round">C</text><text transform="matrix(0.5780 0 0 0.5725 853.24 930.00)" font-size="100" stroke="#000" stroke-width="1.74" stroke-linejoin="round">F</text><text transform="matrix(0.4578 0 0 0.4377 882.30 939.50)" font-size="100" stroke="#000" stroke-width="2.23" stroke-linejoin="round">2</text><rect x="890" y="960" width="34" height="5"/><text transform="matrix(0.6196 0 0 0.5242 922.75 980.98)" font-size="100" stroke="#000" stroke-width="1.75" stroke-linejoin="round">S</text><text transform="matrix(0.5478 0 0 0.5502 921.51 908.95)" font-size="100" stroke="#000" stroke-width="1.82" stroke-linejoin="round">O</text><rect x="932" y="916" width="5" height="28"/><rect x="945" y="916" width="5" height="28"/><rect x="932" y="986" width="5" height="28"/><rect x="945" y="986" width="5" height="28"/><text transform="matrix(0.5478 0 0 0.5242 921.51 1055.23)" font-size="100" stroke="#000" stroke-width="1.87" stroke-linejoin="round">O</text><rect x="960" y="960" width="30" height="5"/><text transform="matrix(0.5662 0 0 0.5242 992.67 980.98)" font-size="100" stroke="#000" stroke-width="1.84" stroke-linejoin="round">O</text><text transform="matrix(0.4928 0 0 0.5191 1034.51 980.75)" font-size="100" stroke="#000" stroke-width="1.98" stroke-linejoin="round">N</text><text transform="matrix(0.5304 0 0 0.5000 1071.28 981.00)" font-size="100" stroke="#000" stroke-width="1.94" stroke-linejoin="round">a</text></g>
</svg>
</body>
</html>
